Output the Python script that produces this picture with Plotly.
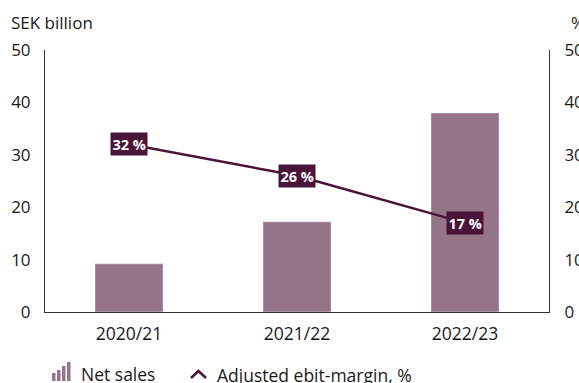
import plotly.graph_objects as go

categories = ["2020/21", "2021/22", "2022/23"]
net_sales = [9.2, 17.2, 38.0]
ebit_margin = [32, 26, 17]
margin_labels = ["32 %", "26 %", "17 %"]
tick_vals = [0, 10, 20, 30, 40, 50]

BAR = "#957489"
DARK = "#4A1438"
TXT = "#1a1a1a"
FONT = "Open Sans"

fig = go.Figure()
fig.add_trace(go.Bar(x=categories, y=net_sales, marker_color=BAR, width=0.405,
                     name="Net sales", showlegend=False))
fig.add_trace(go.Scatter(x=categories, y=ebit_margin, mode="lines", yaxis="y2",
                         line=dict(color=DARK, width=2.5),
                         name="Adjusted ebit-margin, %", showlegend=False))

for c, v, t in zip(categories, ebit_margin, margin_labels):
    fig.add_annotation(x=c, y=v, xref="x", yref="y2", text="<b>" + t + "</b>",
                       showarrow=False, bgcolor=DARK, borderpad=1.5,
                       font=dict(family=FONT, size=14.5, color="white"))

fig.update_layout(
    width=579, height=383,
    margin=dict(l=45, r=30, t=50, b=71, autoexpand=False),
    plot_bgcolor="white", paper_bgcolor="white",
    font=dict(family=FONT, color=TXT, size=17),
    xaxis=dict(showline=True, linecolor="#333", linewidth=1, ticks="", automargin=False,
               tickfont=dict(size=17.5), showgrid=False, ticklabelstandoff=6),
    yaxis=dict(range=[0, 50], tickvals=tick_vals, showline=True, linecolor="#333",
               linewidth=1, showgrid=False, zeroline=False, ticks="", automargin=False,
               tickfont=dict(size=17), ticklabelstandoff=10),
    yaxis2=dict(range=[0, 50], tickvals=tick_vals, overlaying="y", side="right",
                showline=True, linecolor="#333", linewidth=1, showgrid=False,
                zeroline=False, ticks="", tickfont=dict(size=17), ticklabelstandoff=11,
                automargin=False),
)

def px(xp):
    return (xp - 45) / 504
def py(yp):
    return 1 - (yp - 50) / 262

# axis titles
fig.add_annotation(xref="x domain", yref="y domain", x=px(9), y=py(22),
                   text="SEK billion", showarrow=False, xanchor="left", yanchor="middle",
                   font=dict(family=FONT, size=17, color=TXT))
fig.add_annotation(xref="x domain", yref="y domain", x=px(569), y=py(22),
                   text="%", showarrow=False, xanchor="left", yanchor="middle",
                   font=dict(family=FONT, size=17, color=TXT))

# custom legend
icon_tops = [373, 370, 366, 362]
for i, top in enumerate(icon_tops):
    x0 = 52 + i * 5
    fig.add_shape(type="rect", xref="x domain", yref="y domain",
                  x0=px(x0), x1=px(x0 + 3.5), y0=py(381), y1=py(top),
                  fillcolor=BAR, line_width=0)
fig.add_annotation(xref="x domain", yref="y domain", x=px(79), y=py(374),
                   text="Net sales", showarrow=False, xanchor="left", yanchor="middle",
                   font=dict(family=FONT, size=17.5, color=TXT))
fig.add_shape(type="path", xref="x domain", yref="y domain",
              path=f"M {px(191)} {py(378)} L {px(198.5)} {py(371)} L {px(206)} {py(378)}",
              line=dict(color=DARK, width=2.5))
fig.add_annotation(xref="x domain", yref="y domain", x=px(215), y=py(375),
                   text="Adjusted ebit-margin, %", showarrow=False, xanchor="left",
                   yanchor="middle", font=dict(family=FONT, size=17.5, color=TXT))

fig.write_html("out.html")
